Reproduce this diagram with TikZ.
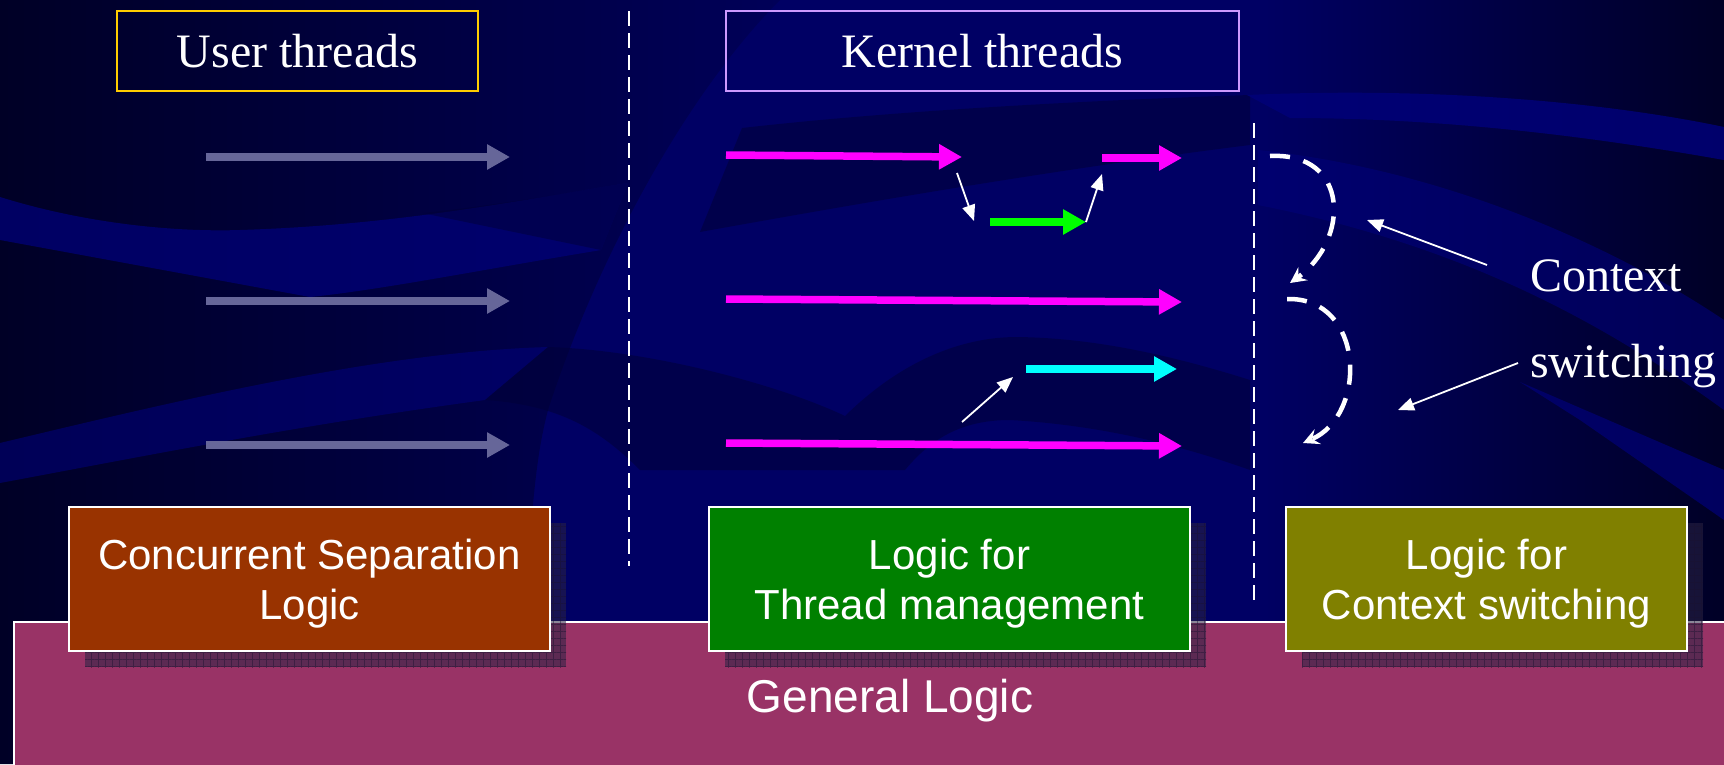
\documentclass[tikz,border=0pt]{standalone}
\usepackage{fontspec}
\setmainfont{Liberation Serif}
\newfontfamily\arialfont{Liberation Sans}
\usetikzlibrary{arrows.meta,patterns.meta}

\definecolor{bgmid}{HTML}{000064}
\definecolor{bgleft}{HTML}{000058}
\definecolor{bgdark}{HTML}{000026}
\definecolor{bglight}{HTML}{000078}
\definecolor{bgdeep}{HTML}{000038}
\definecolor{threadgray}{HTML}{666699}
\definecolor{goldline}{HTML}{FFCC00}
\definecolor{lavline}{HTML}{CC99FF}
\definecolor{cslfill}{HTML}{993300}
\definecolor{tmfill}{HTML}{008000}
\definecolor{csfill}{HTML}{808000}
\definecolor{genfill}{HTML}{993366}
\definecolor{shadowtone}{HTML}{2A2444}
\definecolor{shadowgrid}{HTML}{1A1230}
\definecolor{kmagenta}{RGB}{255,0,255}
\definecolor{kgreen}{RGB}{0,255,0}
\definecolor{kcyan}{RGB}{0,255,255}

\begin{document}
\begin{tikzpicture}[x=1pt,y=-1pt,
  headbox/.style={draw, line width=2.5pt, minimum height=80pt, inner sep=0pt,
    text=white, font=\fontsize{48}{56}\selectfont},
  logicbox/.style={draw=white, line width=2pt, minimum height=144pt, inner sep=0pt},
  logictext/.style={text=white, align=center, inner sep=0pt,
    font=\arialfont\fontsize{42}{50}\selectfont},
  shadowbox/.style={fill=shadowtone, fill opacity=0.55, minimum height=144pt, inner sep=0pt,
    postaction={pattern={Hatch[distance=7pt,angle=0,line width=0.5pt]},
      pattern color=shadowgrid, opacity=0.45}},
  divider/.style={white, line width=1.7pt, dash pattern=on 15pt off 7pt},
  thread/.style={line width=7.5pt, -{Triangle[length=23pt,width=24pt]}},
  userthread/.style={thread, threadgray, line width=8.5pt},
  pointer/.style={white, line width=1.8pt, -{Triangle[length=16pt,width=13pt]}},
  switchpath/.style={white, line width=4.5pt, dash pattern=on 20pt off 14pt,
    -{Stealth[length=16pt,width=16pt,inset=6pt]}},
  sidetext/.style={text=white, inner sep=0pt, anchor=base west, font=\fontsize{48}{56}\selectfont}
]
\useasboundingbox (0,0) rectangle (1724,764);

% ---- background: navy with swooshes ----
\fill[bgmid] (0,0) rectangle (1724,764);
% darker left part, bounded by a long curve
\shade[left color=bgdark, right color=bgleft]
  (0,0) -- (780,0) .. controls (690,90) and (600,250) .. (548,410)
  .. controls (535,460) and (528,520) .. (520,764) -- (0,764) -- cycle;
% darker right part
\shade[left color=bgmid, right color=bgdark] (1256,0) rectangle (1724,764);
% left bands
\fill[bglight, opacity=0.75] (0,197) .. controls (90,225) and (180,232) .. (240,230)
  .. controls (400,225) and (520,200) .. (628,183)
  -- (601,250) .. controls (480,270) and (380,290) .. (310,297)
  -- (0,240) -- cycle;
\fill[bgdeep, opacity=0.5] (422,213) .. controls (500,205) and (570,192) .. (628,183)
  -- (601,250) -- cycle;
\fill[bglight, opacity=0.6] (0,443) .. controls (180,400) and (380,352) .. (548,347)
  -- (485,400) .. controls (300,425) and (150,455) .. (0,483) -- cycle;
% kernel area
\fill[bgdeep, opacity=0.55] (700,232) -- (742,128) .. controls (900,110) and (1100,100) .. (1250,95)
  -- (1250,145) .. controls (1050,170) and (850,205) .. (700,232) -- cycle;
\fill[bgdeep, opacity=0.55] (548,347) .. controls (650,350) and (780,385) .. (845,416)
  .. controls (900,362) and (960,337) .. (1017,337) .. controls (1100,338) and (1180,358) .. (1250,380)
  -- (1250,470) .. controls (1180,445) and (1100,425) .. (1010,420)
  .. controls (960,420) and (930,440) .. (905,470) -- (640,470)
  .. controls (600,430) and (560,405) .. (485,400) -- cycle;
% right bands
\fill[bglight, opacity=0.85] (1247,95) .. controls (1450,86) and (1620,105) .. (1724,127)
  -- (1724,160) .. controls (1600,138) and (1450,118) .. (1290,118) -- cycle;
\fill[bglight, opacity=0.6] (1258,150) .. controls (1450,170) and (1620,250) .. (1724,320)
  -- (1724,410) .. controls (1600,320) and (1460,245) .. (1258,205) -- cycle;
\fill[bglight, opacity=0.7] (1520,382) -- (1724,470) -- (1724,520) -- (1580,420) -- cycle;

% ---- general logic band ----
\node[draw=white, line width=2pt, fill=genfill, minimum width=1740pt, minimum height=160pt,
  anchor=north west, inner sep=0pt] (genband) at (13,621) {};
\node[text=white, anchor=base, inner sep=0pt, font=\arialfont\fontsize{46}{54}\selectfont]
  (gentext) at (890,712) {General Logic};

% ---- dividers ----
\coordinate (d1top) at (629,11);
\coordinate (d1bot) at (629,566);
\coordinate (d2top) at (1254,123);
\coordinate (d2bot) at (1254,601);
\draw[divider] (d1top) -- (d1bot);
\draw[divider] (d2top) -- (d2bot);

% ---- headings ----
\node[headbox, draw=goldline, minimum width=361pt] (user) at (297.5,51) {User threads};
\node[headbox, draw=lavline, minimum width=513pt] (kernel) at (982.5,51) {Kernel threads};

% ---- logic boxes with shadows ----
\node[shadowbox, minimum width=481pt] (cslshadow) at (325.5,595) {};
\node[shadowbox, minimum width=481pt] (tmshadow) at (965.5,595) {};
\node[shadowbox, minimum width=401pt] (csshadow) at (1502.5,595) {};
\node[logicbox, fill=cslfill, minimum width=481pt] (csl) at (309.5,579) {};
\node[logicbox, fill=tmfill, minimum width=481pt] (tm) at (949.5,579) {};
\node[logicbox, fill=csfill, minimum width=401pt] (cs) at (1486.5,579) {};
\node[logictext] (csltext) at (309.5,584) {Concurrent Separation\\Logic};
\node[logictext] (tmtext) at (949.5,584) {Logic for\\Thread management};
\node[logictext] (cstext) at (1486.5,584) {Logic for\\Context switching};

% ---- user threads ----
\coordinate (u1s) at (206,157); \coordinate (u1e) at (510,157);
\coordinate (u2s) at (206,301); \coordinate (u2e) at (510,301);
\coordinate (u3s) at (206,445); \coordinate (u3e) at (510,445);
\draw[userthread] (u1s) -- (u1e);
\draw[userthread] (u2s) -- (u2e);
\draw[userthread] (u3s) -- (u3e);

% ---- kernel threads ----
\coordinate (k1s) at (726,155);  \coordinate (k1e) at (962,157);
\coordinate (k1bs) at (1102,158); \coordinate (k1be) at (1182,158);
\coordinate (gs) at (990,222);   \coordinate (ge) at (1086,222);
\coordinate (k2s) at (726,299);  \coordinate (k2e) at (1182,302);
\coordinate (cys) at (1026,369); \coordinate (cye) at (1177,369);
\coordinate (k3s) at (726,443);  \coordinate (k3e) at (1182,446);
\draw[thread, kmagenta] (k1s) -- (k1e);
\draw[thread, kmagenta] (k1bs) -- (k1be);
\draw[thread, kgreen] (gs) -- (ge);
\draw[thread, kmagenta] (k2s) -- (k2e);
\draw[thread, kcyan] (cys) -- (cye);
\draw[thread, kmagenta] (k3s) -- (k3e);

% ---- hand-over pointers ----
\coordinate (p1s) at (957,173); \coordinate (p1e) at (974,221);
\coordinate (p2e) at (1102,174);
\coordinate (p3s) at (962,422); \coordinate (p3e) at (1013,377);
\draw[pointer] (p1s) -- (p1e);
\draw[pointer] (ge) -- (p2e);
\draw[pointer] (p3s) -- (p3e);

% ---- context switching ----
\coordinate (s1s) at (1270,156); \coordinate (s1e) at (1290,283);
\coordinate (s2s) at (1287,299); \coordinate (s2e) at (1303,443);
\draw[switchpath] (s1s) .. controls (1350,152) and (1350,240) .. (s1e);
\draw[switchpath] (s2s) .. controls (1365,297) and (1368,415) .. (s2e);

\node[sidetext] (ctx) at (1530,291) {Context};
\node[sidetext] (swt) at (1530,377) {switching};
\coordinate (ctxs) at (1487,265); \coordinate (ctxe) at (1367,220);
\coordinate (swts) at (1518,363); \coordinate (swte) at (1398,410);
\draw[pointer] (ctxs) -- (ctxe);
\draw[pointer] (swts) -- (swte);
\end{tikzpicture}
\end{document}
